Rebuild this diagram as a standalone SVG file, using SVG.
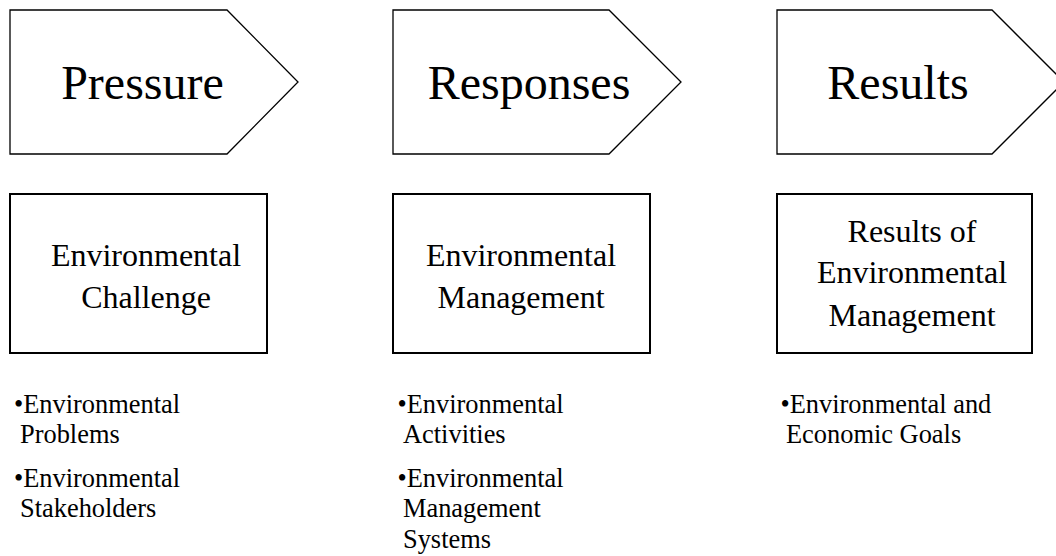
<svg xmlns="http://www.w3.org/2000/svg" width="1056" height="556" viewBox="0 0 1056 556">
  <style>
    .stage { fill: #ffffff; stroke: #000000; stroke-width: 1.3; stroke-linejoin: miter; }
    .box { fill: #ffffff; stroke: #000000; stroke-width: 2; }
    text { font-family: "Liberation Serif", "Times New Roman", serif; fill: #000000; }
    .head { font-size: 48px; text-anchor: middle; }
    .label { font-size: 32px; text-anchor: middle; }
    .item { font-size: 26.4px; }
  </style>
  <rect width="1056" height="556" fill="#ffffff"/>

  <!-- stage arrows -->
  <g id="pressure">
    <path class="stage" d="M10,10 H227 L298,82 L227,154 H10 Z"/>
    <text class="head" x="142.5" y="99">Pressure</text>
  </g>
  <g id="responses">
    <path class="stage" d="M393,10 H609 L681,82 L609,154 H393 Z"/>
    <text class="head" x="529" y="99">Responses</text>
  </g>
  <g id="results">
    <path class="stage" d="M777,10 H992 L1064,82 L992,154 H777 Z"/>
    <text class="head" x="898" y="99">Results</text>
  </g>

  <!-- descriptive boxes -->
  <g id="challenge">
    <rect class="box" x="10" y="194" width="257" height="159"/>
    <text class="label" x="146" y="266">Environmental</text>
    <text class="label" x="146" y="307.5">Challenge</text>
  </g>
  <g id="management">
    <rect class="box" x="393" y="194" width="257" height="159"/>
    <text class="label" x="521" y="266">Environmental</text>
    <text class="label" x="521" y="307.5">Management</text>
  </g>
  <g id="outcomes">
    <rect class="box" x="777" y="194" width="255" height="159"/>
    <text class="label" x="912" y="241.5">Results of</text>
    <text class="label" x="912" y="283.3">Environmental</text>
    <text class="label" x="912" y="325.5">Management</text>
  </g>

  <!-- bullet lists -->
  <g id="pressure-items">
    <text class="item" x="14" y="412.7">•Environmental</text>
    <text class="item" x="20" y="443.3">Problems</text>
    <text class="item" x="14" y="486.7">•Environmental</text>
    <text class="item" x="20" y="517.3">Stakeholders</text>
  </g>
  <g id="responses-items">
    <text class="item" x="397.5" y="412.7">•Environmental</text>
    <text class="item" x="403" y="443.3">Activities</text>
    <text class="item" x="397.5" y="486.7">•Environmental</text>
    <text class="item" x="403" y="517.3">Management</text>
    <text class="item" x="403" y="548.3">Systems</text>
  </g>
  <g id="results-items">
    <text class="item" x="780.5" y="412.7">•Environmental and</text>
    <text class="item" x="786" y="443.3">Economic Goals</text>
  </g>

  <!-- no connectors are drawn between the stages -->
  <g id="connectors"/>
</svg>
